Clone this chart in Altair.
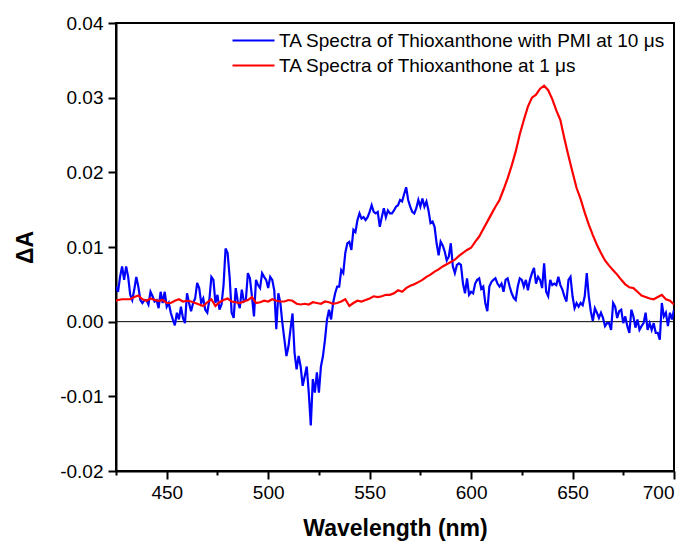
import altair as alt
import numpy as np
import pandas as pd

blue_label = "TA Spectra of Thioxanthone with PMI at 10 μs"
red_label = "TA Spectra of Thioxanthone at 1 μs"

# Blue: 425..700 nm every 1 nm, ΔA in units of 1e-3
blue_start, blue_step = 425, 1
blue_dA_milli = [
    4.7, 4.0, 6.0, 7.4, 5.6, 7.4, 6.0, 3.6, 2.9, 4.3,
    6.0, 4.7, 2.9, 2.5, 2.9, 2.9, 2.3, 4.0, 3.4, 2.7,
    2.9, 1.8, 4.0, 2.5, 4.0, 2.0, 2.5, 1.2, 0.3, -0.5,
    1.2, 0.3, 2.0, 0.5, -0.2, 3.8, 2.5, 1.4, 2.5, 3.1,
    5.2, 4.5, 2.5, 3.1, 1.6, 1.2, 2.9, 6.0, 5.6, 2.5,
    3.6, 1.6, 2.3, 4.9, 9.8, 9.2, 6.0, 1.2, 0.5, 4.5,
    2.7, 1.8, 4.3, 2.7, 2.9, 6.5, 5.8, 3.4, 0.7, 5.6,
    4.9, 4.5, 6.5, 6.0, 5.6, 4.5, 6.0, 5.6, 4.2, -1.0,
    3.8, 2.5, -0.2, -2.4, -4.6, -3.3, -1.0, 1.1, -4.2, -6.4,
    -4.6, -6.0, -8.6, -7.3, -6.0, -9.5, -13.9, -7.7, -9.5, -6.8,
    -9.5, -6.0, -4.6, -2.4, 0.3, 1.6, 0.3, 2.5, 3.8, 4.7,
    4.7, 6.9, 6.5, 9.2, 10.5, 10.7, 9.6, 12.3, 12.0, 13.6,
    14.5, 13.8, 14.0, 13.6, 14.0, 14.7, 15.6, 14.7, 14.5, 14.7,
    12.7, 14.0, 15.2, 14.0, 14.9, 14.5, 14.5, 14.9, 15.4, 15.6,
    16.3, 16.1, 17.1, 18.0, 16.3, 15.4, 14.7, 14.5, 15.2, 16.3,
    15.4, 16.5, 15.4, 16.1, 14.9, 13.2, 13.4, 12.7, 10.5, 8.9,
    10.7, 10.2, 9.4, 8.2, 8.7, 10.5, 7.4, 6.5, 7.6, 7.8,
    7.6, 5.1, 3.8, 5.8, 3.6, 4.0, 3.8, 5.1, 5.6, 5.8,
    4.4, 4.7, 2.5, 1.4, 4.7, 5.3, 5.6, 5.8, 5.1, 4.7,
    5.1, 4.0, 5.6, 5.8, 4.7, 3.8, 3.2, 2.9, 4.7, 5.8,
    5.6, 4.7, 5.6, 4.2, 5.6, 6.5, 7.2, 5.1, 6.0, 5.6,
    4.5, 7.8, 4.0, 3.4, 5.6, 4.9, 5.1, 4.9, 6.0, 4.9,
    4.3, 3.4, 2.7, 5.6, 6.0, 3.4, 1.8, 2.5, 2.0, 2.5,
    2.2, 3.4, 6.5, 3.4, 1.4, 0.1, 1.8, 1.2, 0.5, 1.2,
    0.5, -0.6, -0.2, -0.2, -1.1, 2.5, 2.0, 0.5, 1.4, 1.6,
    -0.2, 0.7, -0.6, -1.5, 1.6, 0.7, -0.8, 0.3, -1.1, -0.6,
    -0.2, 1.2, -1.1, -0.2, -1.1, -0.2, -1.5, -1.5, -2.4, 2.5,
    0.7, 1.2, -0.6, 1.2, 0.3, 1.6,
]

# Red: 424..700 nm every 2 nm, ΔA in units of 1e-3
red_start, red_step = 424, 2
red_dA_milli = [
    2.7, 2.9, 3.0, 3.0, 3.0, 3.3, 3.5, 3.0, 2.8, 3.1,
    2.9, 2.8, 2.9, 2.5, 2.5, 2.8, 3.0, 2.7, 2.8, 2.7,
    2.5, 2.3, 2.1, 2.6, 3.0, 2.1, 2.6, 2.9, 3.1, 2.7,
    2.6, 2.5, 2.7, 2.9, 3.3, 2.5, 2.6, 2.8, 2.7, 3.0,
    2.8, 2.7, 2.7, 2.9, 2.8, 2.4, 2.3, 2.4, 2.3, 2.6,
    2.5, 2.4, 2.7, 2.6, 2.4, 2.5, 2.7, 3.0, 2.1, 2.5,
    2.8, 2.7, 2.9, 3.1, 3.4, 3.3, 3.4, 3.6, 3.6, 3.8,
    4.2, 4.0, 4.5, 4.8, 5.0, 5.3, 5.6, 6.0, 6.3, 6.7,
    7.0, 7.4, 7.7, 8.0, 8.3, 8.8, 9.2, 9.6, 9.9, 10.7,
    11.4, 12.4, 13.4, 14.4, 15.4, 16.3, 17.7, 19.2, 20.9, 22.8,
    25.1, 27.0, 28.8, 30.0, 30.4, 31.2, 31.6, 31.0, 29.8, 28.3,
    27.0, 24.5, 22.2, 20.0, 17.9, 16.4, 14.6, 13.0, 11.6, 10.3,
    9.2, 8.2, 7.5, 6.9, 6.3, 5.6, 5.0, 4.6, 4.5, 4.0,
    3.5, 3.3, 3.1, 3.0, 3.3, 3.6, 3.0, 2.8, 2.3,
]

x_tick_values = [425, 450, 475, 500, 525, 550, 575, 600, 625, 650, 675, 700]
y_tick_values = [-0.02, -0.015, -0.01, -0.005, 0.0, 0.005, 0.01, 0.015,
                 0.02, 0.025, 0.03, 0.035, 0.04]

blue_wl = blue_start + blue_step * np.arange(len(blue_dA_milli))
red_wl = red_start + red_step * np.arange(len(red_dA_milli))

df = pd.concat([
    pd.DataFrame({"wl": blue_wl, "dA": np.array(blue_dA_milli) / 1000.0,
                  "series": blue_label, "order": 0}),
    pd.DataFrame({"wl": red_wl, "dA": np.array(red_dA_milli) / 1000.0,
                  "series": red_label, "order": 1}),
], ignore_index=True)

FONT = "Liberation Sans"

x_major = "datum.value % 50 == 0"
y_major = "abs(datum.value * 100 - round(datum.value * 100)) < 0.001"

x_axis = alt.Axis(
    values=x_tick_values,
    labelExpr=f"{x_major} ? format(datum.value, 'd') : ''",
    tickSize={"condition": {"test": x_major, "value": 8}, "value": 4},
    title="Wavelength (nm)",
    titlePadding=15,
    labelPadding=4,
)
y_axis = alt.Axis(
    values=y_tick_values,
    labelExpr=f"{y_major} ? replace(format(datum.value, '.2f'), '\u2212', '-') : ''",
    tickSize={"condition": {"test": y_major, "value": 8}, "value": 4},
    title="ΔA",
    titlePadding=22,
    labelPadding=5,
)

x_enc = alt.X("wl:Q", scale=alt.Scale(domain=[425, 700], nice=False, zero=False), axis=x_axis)
y_enc = alt.Y("dA:Q", scale=alt.Scale(domain=[-0.02, 0.04], nice=False, zero=False), axis=y_axis)

zero = alt.Chart(pd.DataFrame({"z": [0.0]})).mark_rule(color="black", strokeWidth=1).encode(
    y=alt.Y("z:Q", scale=alt.Scale(domain=[-0.02, 0.04], nice=False, zero=False))
)

lines = alt.Chart(df).mark_line(strokeWidth=2.2, clip=True).encode(
    x=x_enc,
    y=y_enc,
    color=alt.Color(
        "series:N",
        scale=alt.Scale(domain=[blue_label, red_label], range=["#0000FF", "#FF0000"]),
        legend=alt.Legend(
            title=None,
            orient="none",
            legendX=126,
            legendY=6,
            symbolType="M-2,0H2",
            symbolSize=441,
            symbolStrokeWidth=2,
            labelFontSize=19,
            labelFont=FONT,
            labelColor="black",
            labelLimit=0,
            labelOffset=14,
            rowPadding=3,
            padding=0,
        ),
    ),
    order=alt.Order("order:Q"),
)

chart = alt.layer(zero, lines).properties(
    width=558,
    height=448,
    autosize=alt.AutoSizeParams(type="none"),
    padding={"left": 116, "top": 23, "right": 19, "bottom": 75},
    background="white",
).configure_view(
    stroke="black", strokeWidth=2
).configure_axis(
    grid=False,
    domainColor="black",
    domainWidth=2,
    tickColor="black",
    tickWidth=2,
    labelFont=FONT,
    labelFontSize=19,
    labelColor="black",
    titleFont=FONT,
    titleFontSize=23,
    titleFontWeight="bold",
    titleColor="black",
)

chart.save("out.html", embed_options={"renderer": "svg", "actions": False})
